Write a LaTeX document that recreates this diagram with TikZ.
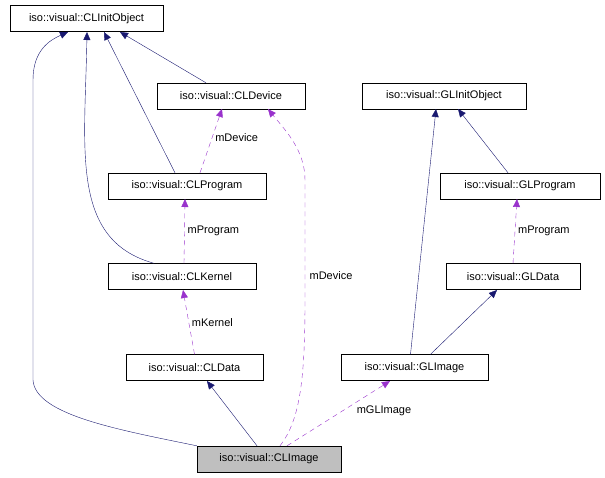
\documentclass[tikz,border=0pt]{standalone}
\usepackage{fontspec}
\setmainfont{Liberation Sans}
\usetikzlibrary{arrows.meta}
\begin{document}
\begin{tikzpicture}[x=1pt,y=-1pt,
  box/.style={draw,fill=white,minimum height=26pt,inner sep=0pt,font=\fontsize{11}{12}\selectfont},
  inh/.style={draw={rgb,255:red,25;green,25;blue,112},-{Triangle[length=8pt,width=7pt]}},
  use/.style={draw={rgb,255:red,153;green,50;blue,204},dash pattern=on 5pt off 4pt,-{Triangle[length=8pt,width=7pt]}},
  lbl/.style={font=\fontsize{11}{12}\selectfont,fill=white,inner sep=1pt}]
\useasboundingbox (0,0) rectangle (605,477);
\node[box,minimum width=153pt] (cli) at (86.5,18.5) {iso::visual::CLInitObject};
\node[box,minimum width=148pt] (cld) at (231,96) {iso::visual::CLDevice};
\node[box,minimum width=164pt] (gli) at (444,96) {iso::visual::GLInitObject};
\node[box,minimum width=158pt] (clp) at (187,186) {iso::visual::CLProgram};
\node[box,minimum width=160pt] (glp) at (520,186) {iso::visual::GLProgram};
\node[box,minimum width=148pt] (clk) at (182,276.5) {iso::visual::CLKernel};
\node[box,minimum width=134pt] (gld) at (513,276.5) {iso::visual::GLData};
\node[box,minimum width=137pt] (cldata) at (194.5,367.5) {iso::visual::CLData};
\node[box,minimum width=147pt] (glim) at (414.5,367.5) {iso::visual::GLImage};
\node[box,minimum width=144pt,fill={rgb,255:red,191;green,191;blue,191}] (clim) at (269,459) {iso::visual::CLImage};

\draw[inh] (clim.north west) .. controls (120,430) and (35,415) .. (33,380) -- (33,80) .. controls (33,50) and (50,40) .. (68,32);
\draw[inh] (cld.north) ++(-25,0) -- (120,32);
\draw[inh] (clp.north) ++(-12,0) -- (104,32);
\draw[inh] (clk.north) ++(-28,0) .. controls (70,240) and (85,150) .. (87,32);
\draw[inh] (clim.north) ++(-12,0) -- (207,381);
\draw[inh] (glim.north) ++(-4,0) -- (436,109);
\draw[inh] (glp.north) ++(-12,0) -- (458,109);
\draw[inh] (glim.north) ++(16,0) -- (497,290);

\draw[use] (clp.north) ++(13,0) -- (222,109) node[lbl,pos=0.55,right=2pt] {mDevice};
\draw[use] (clk.north) ++(2,0) -- (185,199) node[lbl,pos=0.5,right=2pt] {mProgram};
\draw[use] (cldata.north) -- (183,290) node[lbl,pos=0.5,right=2pt] {mKernel};
\draw[use] (clim.north) ++(11,0) .. controls (300,420) and (305,380) .. (305,300) -- (305,180) .. controls (305,150) and (285,130) .. (268,109);
\node[lbl] (ld) at (331,276) {mDevice};
\draw[use] (clim.north) ++(18,0) -- (390,381);
\node[lbl] (lg) at (384,411) {mGLImage};
\draw[use] (gld.north) -- (517,199) node[lbl,pos=0.5,right=2pt] {mProgram};
\end{tikzpicture}
\end{document}
